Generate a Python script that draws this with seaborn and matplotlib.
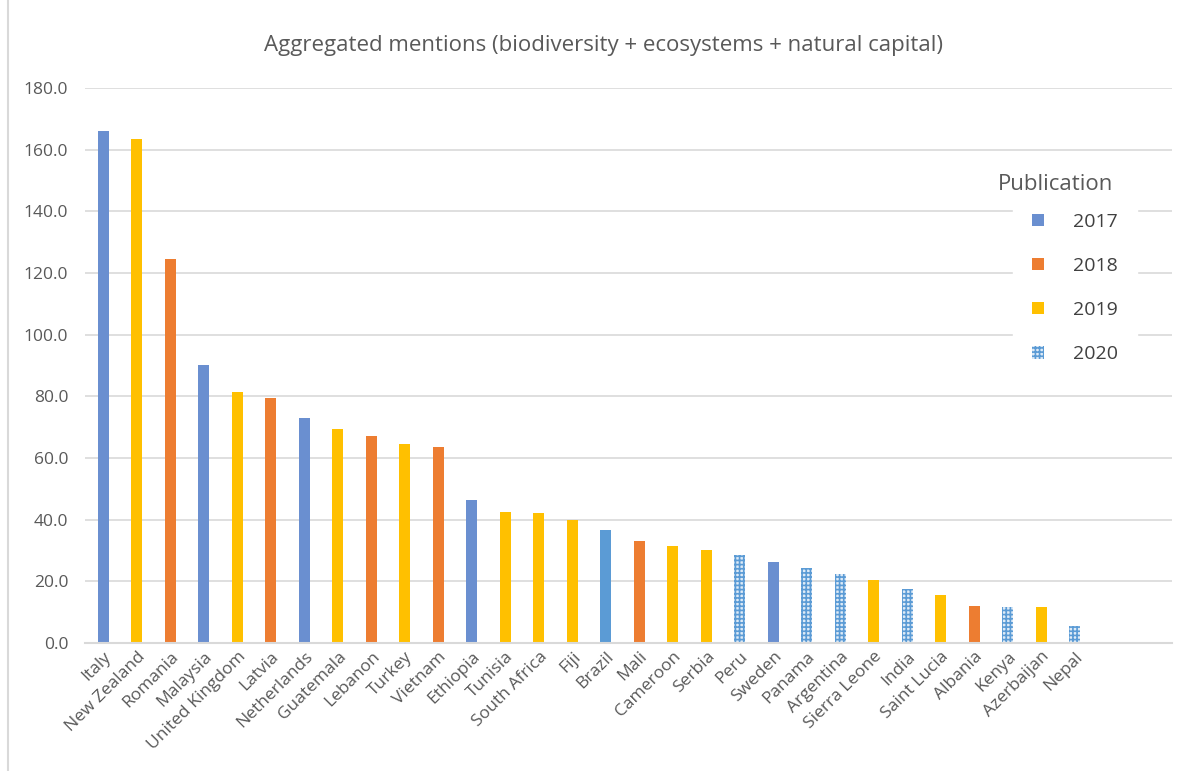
import numpy as np
import pandas as pd
import matplotlib
matplotlib.use('Agg')
import matplotlib.pyplot as plt
import seaborn as sns
from matplotlib.lines import Line2D
from matplotlib.patches import Patch

# ── Data ─────────────────────────────────────────────────────────────────────
countries = ['Italy', 'New Zealand', 'Romania', 'Malaysia', 'United Kingdom',
             'Latvia', 'Netherlands', 'Guatemala', 'Lebanon', 'Turkey',
             'Vietnam', 'Ethiopia', 'Tunisia', 'South Africa', 'Fiji',
             'Brazil', 'Mali', 'Cameroon', 'Serbia', 'Peru', 'Sweden',
             'Panama', 'Argentina', 'Sierra Leone', 'India', 'Saint Lucia',
             'Albania', 'Kenya', 'Azerbaijan', 'Nepal']
mentions = [166.1, 163.4, 124.5, 90.2, 81.4, 79.5, 73.0, 69.4, 67.1, 64.5,
            63.6, 46.4, 42.5, 42.2, 39.9, 36.7, 33.1, 31.5, 30.2, 28.5,
            26.3, 24.3, 22.4, 20.4, 17.5, 15.6, 12.0, 11.7, 11.7, 5.5]
pub_year = ['2017', '2019', '2018', '2017', '2019', '2018', '2017', '2019',
            '2018', '2019', '2018', '2017', '2019', '2019', '2019', '2017',
            '2018', '2019', '2019', '2020', '2017', '2020', '2020', '2019',
            '2020', '2019', '2018', '2020', '2019', '2020']
years = ['2017', '2018', '2019', '2020']

df = pd.DataFrame({'country': countries, 'mentions': mentions, 'year': pub_year})

palette = {'2017': '#6A8FD0', '2018': '#ED7D31', '2019': '#FFC000', '2020': '#BDD7EE'}
hatch_blue = '#5B9BD5'
hatch_face = '#DEEBF7'
text_grey = '#595959'
grid_grey = '#D9D9D9'

# ── Figure ───────────────────────────────────────────────────────────────────
sns.set_style('white')
plt.rcParams['font.family'] = ['Open Sans', 'DejaVu Sans']
plt.rcParams['hatch.linewidth'] = 1.2

fig = plt.figure(figsize=(11.86, 7.71), dpi=100)
ax = fig.add_axes([85 / 1186, 1 - 643 / 771, (1172 - 85) / 1186, (643 - 88) / 771])

sns.barplot(data=df, x='country', y='mentions', hue='year', hue_order=years,
            palette=palette, dodge=False, width=0.33, ax=ax, legend=False,
            saturation=1)

# 2020 bars get the dotted fill, Brazil is drawn in a lighter blue
bars = sorted([p for p in ax.patches if p.get_height() > 0], key=lambda p: p.get_x())
for patch, yr, c in zip(bars, pub_year, countries):
    patch.set_linewidth(0)
    if yr == '2020':
        patch.set_facecolor(hatch_face)
        patch.set_edgecolor(hatch_blue)
        patch.set_hatch('++++')
    if c == 'Brazil':
        patch.set_facecolor('#5B9BD5')

ax.set_xlim(-0.55, 31.9)
ax.set_ylim(0, 180)
ax.set_yticks(np.arange(0, 181, 20))
ax.set_yticklabels([f'{v:.1f}' for v in np.arange(0, 181, 20)])
ax.yaxis.grid(True, color=grid_grey, linewidth=1.2)
ax.set_axisbelow(True)
for s in ['top', 'right', 'left']:
    ax.spines[s].set_visible(False)
ax.spines['bottom'].set_color(grid_grey)
ax.spines['bottom'].set_linewidth(1.5)
ax.tick_params(axis='both', length=0, colors=text_grey, labelsize=12.5)
ax.tick_params(axis='y', pad=12)
ax.tick_params(axis='x', pad=4)
plt.setp(ax.get_xticklabels(), rotation=45, ha='right', rotation_mode='anchor')
ax.set_xlabel('')
ax.set_ylabel('')

fig.text(604 / 1186, 1 - 46 / 771,
         'Aggregated mentions (biodiversity + ecosystems + natural capital)',
         ha='center', va='center', fontsize=16, color=text_grey)

# legend (title drawn separately so its gap matches)
handles = []
for yr in years:
    if yr == '2020':
        handles.append(Patch(facecolor=hatch_face, edgecolor=hatch_blue, hatch='++++', linewidth=0))
    else:
        handles.append(Patch(facecolor=palette[yr], linewidth=0))
leg = fig.legend(handles, years, loc='center',
                 bbox_to_anchor=(1075 / 1186, 1 - 288 / 771),
                 frameon=True, facecolor='white', edgecolor='white', framealpha=1,
                 fontsize=14, labelspacing=1.35,
                 handlelength=0.6, handleheight=0.6, handletextpad=1.5,
                 borderpad=1.0, borderaxespad=0)
leg.set_zorder(5)
for t in leg.get_texts():
    t.set_color('#404040')
fig.text(1056 / 1186, 1 - 185 / 771, 'Publication', ha='center', va='center',
         fontsize=16, color=text_grey, zorder=6)

# chart border on the left
fig.add_artist(Line2D([8 / 1186, 8 / 1186], [0, 1], color=grid_grey, linewidth=1.5))

fig.savefig('out.png', dpi=100)
plt.close()
